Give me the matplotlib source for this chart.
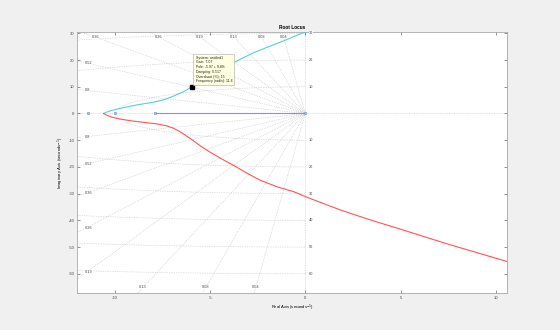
import matplotlib.pyplot as plt
import numpy as np

plt.rcParams['font.family'] = ['Liberation Sans', 'DejaVu Sans']
plt.rcParams['axes.unicode_minus'] = False

# locus branches
cyan_x = [-10.6, -10.45, -10.2, -9.8, -9.3, -8.7, -8.0, -7.4, -6.9, -6.4, -5.97,
          -5.5, -5.0, -4.2, -3.4, -2.7, -2.0, -1.0, -0.3, 0.2]
cyan_y = [0.0, 0.5, 1.1, 1.8, 2.6, 3.4, 4.2, 5.2, 6.6, 8.2, 9.89,
          12.0, 14.0, 17.3, 20.4, 22.8, 24.8, 27.6, 29.7, 31.0]
red_x = [-10.6, -10.45, -10.2, -9.8, -9.2, -8.5, -7.8, -7.3, -6.9, -6.5, -6.0, -5.5,
         -5.0, -4.4, -3.8, -3.1, -2.4, -1.5, -0.6, 0.0, 0.8, 1.84, 3.4, 5.0, 7.5, 10.6]
red_y = [0.0, -0.6, -1.3, -2.0, -2.7, -3.3, -3.9, -4.6, -5.6, -7.2, -9.6, -12.2,
         -14.5, -17.0, -19.3, -22.2, -24.9, -27.4, -29.3, -31.1, -33.3, -36.1, -39.8,
         -43.3, -48.9, -55.4]
blue_x = [-7.9, 0.0]
blue_y = [0.0, 0.0]
pole_x = [-11.4, -10.0, -7.9, 0.0]

# sgrid values
zetas = [0.04, 0.08, 0.13, 0.19, 0.26, 0.36, 0.52, 0.8]
wns = [10, 20, 30, 40, 50, 60]

# data tip
tip_x, tip_y = -5.97, 9.89
tip_text = ("System: untitled1\nGain: 7.07\nPole: -5.97 + 9.89i\nDamping: 0.517\n"
            "Overshoot (%): 15\nFrequency (rad/s): 11.6")

xticks = [-10, -5, 0, 5, 10]
yticks = [-60, -50, -40, -30, -20, -10, 0, 10, 20, 30]
xlim = (-12, 10.6)
ylim = (-67.2, 30.5)

fig = plt.figure(figsize=(5.6, 3.3), dpi=100)
fig.patch.set_facecolor('#f0f0f0')
ax = fig.add_axes([0.1375, 0.112, 0.768, 0.791])

gc = '#c4c4c4'
gkw = dict(color=gc, lw=0.5, ls=(0, (1, 1.5)), zorder=1)

# damping lines
for z in zetas:
    s = np.sqrt(1 - z ** 2)
    for sg in (1, -1):
        ax.plot([0, -z * 120], [0, sg * s * 120], **gkw)
        ybound = 28.6 if sg > 0 else -65.0
        tx = 11.5 / z
        ty = abs(ybound) / s
        if tx < ty:
            ax.text(-11.6, sg * s * tx, f'{z:g}', fontsize=2.8, color='#444444',
                    ha='left', va='center', zorder=3,
                    bbox=dict(fc='white', ec='none', pad=0.2))
        else:
            ax.text(-z * ty, ybound, f'{z:g}', fontsize=2.8, color='#444444',
                    ha='center', va='center', zorder=3,
                    bbox=dict(fc='white', ec='none', pad=0.2))
ax.plot([xlim[0], xlim[1]], [0, 0], **gkw)
ax.plot([0, 0], [ylim[0], ylim[1]], **gkw)

# natural frequency arcs
t = np.linspace(np.pi / 2, 3 * np.pi / 2, 400)
for w in wns:
    ax.plot(w * np.cos(t), w * np.sin(t), **gkw)
    for sg in (1, -1):
        if ylim[0] < sg * w < ylim[1] + 0.1:
            ax.text(0.3, sg * w, str(w), fontsize=2.8, color='#444444',
                    ha='center', va='center', zorder=3,
                    bbox=dict(fc='white', ec='none', pad=0.2))

# loci
ax.plot(blue_x, blue_y, color='#8a8aff', lw=0.8, zorder=4)
ax.plot(cyan_x, cyan_y, color='#55d0d8', lw=0.8, zorder=4)
ax.plot(red_x, red_y, color='#ff5555', lw=0.8, zorder=4)
ax.plot(pole_x, [0] * len(pole_x), ls='none', marker='s', ms=2.0,
        mfc='#b0ccf0', mec='#5a8ad0', mew=0.4, zorder=5)

# data tip
ax.plot([tip_x], [tip_y], ls='none', marker='s', ms=2.5, color='black', zorder=6)
ax.text(tip_x + 0.2, tip_y + 1.4, tip_text, fontsize=2.5, color='#222222',
        ha='left', va='bottom', linespacing=1.25, zorder=7,
        bbox=dict(fc='#ffffe1', ec='#aaaaaa', lw=0.4, boxstyle='square,pad=0.6'))

ax.set_xlim(xlim)
ax.set_ylim(ylim)
ax.set_xticks(xticks)
ax.set_yticks(yticks)
ax.tick_params(direction='in', length=2.5, width=0.4, labelsize=3, pad=2,
               top=True, right=True, colors='#444444')
for sp in ax.spines.values():
    sp.set_color('#999999')
    sp.set_linewidth(0.5)

ax.set_title('Root Locus', fontsize=3.4, fontweight='bold', pad=2)
ax.set_xlabel('Real Axis (seconds$^{-1}$)', fontsize=3, labelpad=2)
ax.set_ylabel('Imaginary Axis (seconds$^{-1}$)', fontsize=3, labelpad=2)

fig.savefig('out.png', dpi=100, facecolor=fig.get_facecolor())
